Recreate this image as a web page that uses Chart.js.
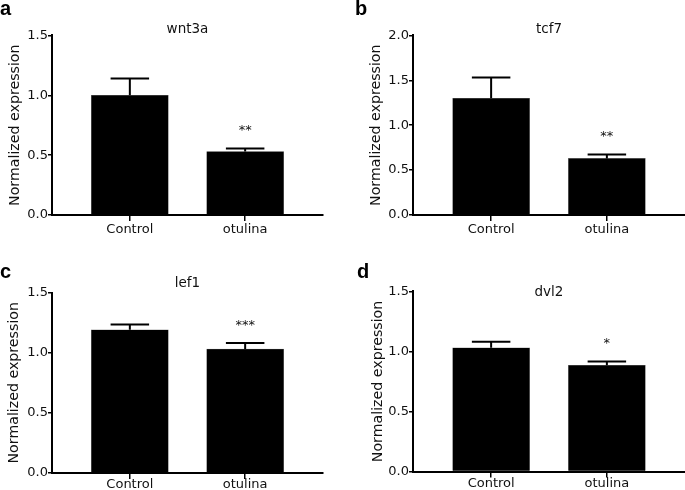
<!DOCTYPE html>
<html>
<head>
<meta charset="utf-8">
<script src="https://cdn.jsdelivr.net/npm/chart.js@4/dist/chart.umd.min.js"></script>
<style>
    body { margin: 0; background: #fff; }
    #wrap { position: relative; width: 685px; height: 490px; overflow: hidden; }
    .panel { position: absolute; }
    .letter { position: absolute; font: bold 20px "Liberation Sans", Arial, sans-serif; line-height: 20px; color: #000; }
</style>
</head>
<body>
<div id="wrap">
    <div class="panel" style="left:0;top:0;width:342px;height:245px"><canvas id="chartA"></canvas></div>
    <div class="panel" style="left:342px;top:0;width:343px;height:245px"><canvas id="chartB"></canvas></div>
    <div class="panel" style="left:0;top:245px;width:342px;height:245px"><canvas id="chartC"></canvas></div>
    <div class="panel" style="left:342px;top:245px;width:343px;height:245px"><canvas id="chartD"></canvas></div>
    <div class="letter" style="left:0;top:-2px">a</div>
    <div class="letter" style="left:355px;top:-2px">b</div>
    <div class="letter" style="left:0;top:261px">c</div>
    <div class="letter" style="left:357px;top:261px">d</div>
</div>
<script>
// groups on the x axis
var categories = ['Control', 'otulina'];

// one gene per panel
var genes = ['wnt3a', 'tcf7', 'lef1', 'dvl2'];
var wnt3aMean = [1.00, 0.53];
var wnt3aErr = [0.14, 0.025];
var tcf7Mean = [1.30, 0.63];
var tcf7Err = [0.23, 0.045];
var lef1Mean = [1.19, 1.03];
var lef1Err = [0.045, 0.05];
var dvl2Mean = [1.03, 0.885];
var dvl2Err = [0.05, 0.032];

// significance marks over the bars
var wnt3aSig = ['', '**'];
var tcf7Sig = ['', '**'];
var lef1Sig = ['', '***'];
var dvl2Sig = ['', '*'];

// y axis top for each panel
var yMax = [1.5, 2.0, 1.5, 1.5];

var FONT = '"DejaVu Sans", Verdana, sans-serif';

// draws the upper error bar and the stars above each bar
var errorBarPlugin = {
    id: 'errorBars',
    afterDatasetsDraw: function(chart) {
        var ctx = chart.ctx;
        var yScale = chart.scales.y;
        var ds = chart.data.datasets[0];
        var meta = chart.getDatasetMeta(0);
        meta.data.forEach(function(bar, i) {
            var top = yScale.getPixelForValue(ds.data[i].y + ds.errors[i]);
            var half = bar.width / 4;
            ctx.save();
            ctx.strokeStyle = '#000';
            ctx.lineWidth = 2;
            ctx.beginPath();
            ctx.moveTo(bar.x, bar.y);
            ctx.lineTo(bar.x, top);
            ctx.moveTo(bar.x - half, top);
            ctx.lineTo(bar.x + half, top);
            ctx.stroke();
            if (ds.sig[i]) {
                ctx.fillStyle = '#111';
                ctx.font = '13px ' + FONT;
                ctx.textAlign = 'center';
                ctx.textBaseline = 'middle';
                ctx.fillText(ds.sig[i], bar.x, top - 17.5);
            }
            ctx.restore();
        });
    }
};

function makeChart(id, gene, means, errs, sig, max, opts) {
    var ctx = document.getElementById(id).getContext('2d');
    var points = means.map(function(v, i) { return { x: i + 1, y: v }; });

    return new Chart(ctx, {
        type: 'bar',
        data: {
            datasets: [{
                data: points,
                errors: errs,
                sig: sig,
                backgroundColor: '#000',
                borderColor: '#666',
                borderWidth: 0.6,
                barThickness: 77
            }]
        },
        options: {
            responsive: true,
            maintainAspectRatio: false,
            animation: false,
            layout: { padding: { left: 0, right: opts.right, top: 0, bottom: 0 } },
            plugins: {
                legend: { display: false },
                tooltip: { enabled: false },
                title: {
                    display: true,
                    fullSize: false,
                    text: gene,
                    color: '#111',
                    font: { family: FONT, size: 13.5, weight: 'normal' },
                    padding: { top: opts.titleTop, bottom: opts.titleBottom }
                }
            },
            scales: {
                x: {
                    type: 'linear',
                    offset: false,
                    min: 0.325,
                    max: 2.675,
                    afterBuildTicks: function(scale) {
                        scale.ticks = categories.map(function(c, i) { return { value: i + 1 }; });
                    },
                    afterFit: function(scale) { scale.height = opts.xHeight; },
                    ticks: {
                        color: '#111',
                        font: { family: FONT, size: 13 },
                        padding: opts.xPad,
                        maxRotation: 0,
                        callback: function(v) { return categories[v - 1]; }
                    },
                    grid: { offset: false, drawOnChartArea: false, drawTicks: true, tickLength: 6, color: '#000', lineWidth: 1.5 },
                    border: { color: '#000', width: 2 }
                },
                y: {
                    min: 0,
                    max: max,
                    afterFit: function(scale) { scale.width = opts.yWidth; },
                    ticks: {
                        stepSize: 0.5,
                        color: '#111',
                        font: { family: FONT, size: 13 },
                        padding: 0,
                        callback: function(v) { return v.toFixed(1); }
                    },
                    grid: { drawOnChartArea: false, drawTicks: true, tickLength: 4, color: '#000', lineWidth: 1.5 },
                    border: { color: '#000', width: 2 },
                    title: {
                        display: true,
                        text: 'Normalized expression',
                        color: '#111',
                        font: { family: FONT, size: 14.2 },
                        padding: { top: opts.yTitlePad, bottom: 0 }
                    }
                }
            }
        },
        plugins: [errorBarPlugin]
    });
}

document.addEventListener('DOMContentLoaded', function() {
    makeChart('chartA', genes[0], wnt3aMean, wnt3aErr, wnt3aSig, yMax[0],
        { right: 19, titleTop: 21, titleBottom: -1.8, xHeight: 30, xPad: 1, yWidth: 52, yTitlePad: 6.5 });
    makeChart('chartB', genes[1], tcf7Mean, tcf7Err, tcf7Sig, yMax[1],
        { right: 0, titleTop: 21, titleBottom: -1.8, xHeight: 30, xPad: 1, yWidth: 71, yTitlePad: 26.3 });
    makeChart('chartC', genes[2], lef1Mean, lef1Err, lef1Sig, yMax[2],
        { right: 19, titleTop: 30.5, titleBottom: 0.8, xHeight: 17, xPad: -2, yWidth: 52, yTitlePad: 5.8 });
    makeChart('chartD', genes[3], dvl2Mean, dvl2Err, dvl2Sig, yMax[3],
        { right: 0, titleTop: 39.5, titleBottom: -9.3, xHeight: 18.5, xPad: -2, yWidth: 71, yTitlePad: 27.4 });
});
</script>
</body>
</html>
